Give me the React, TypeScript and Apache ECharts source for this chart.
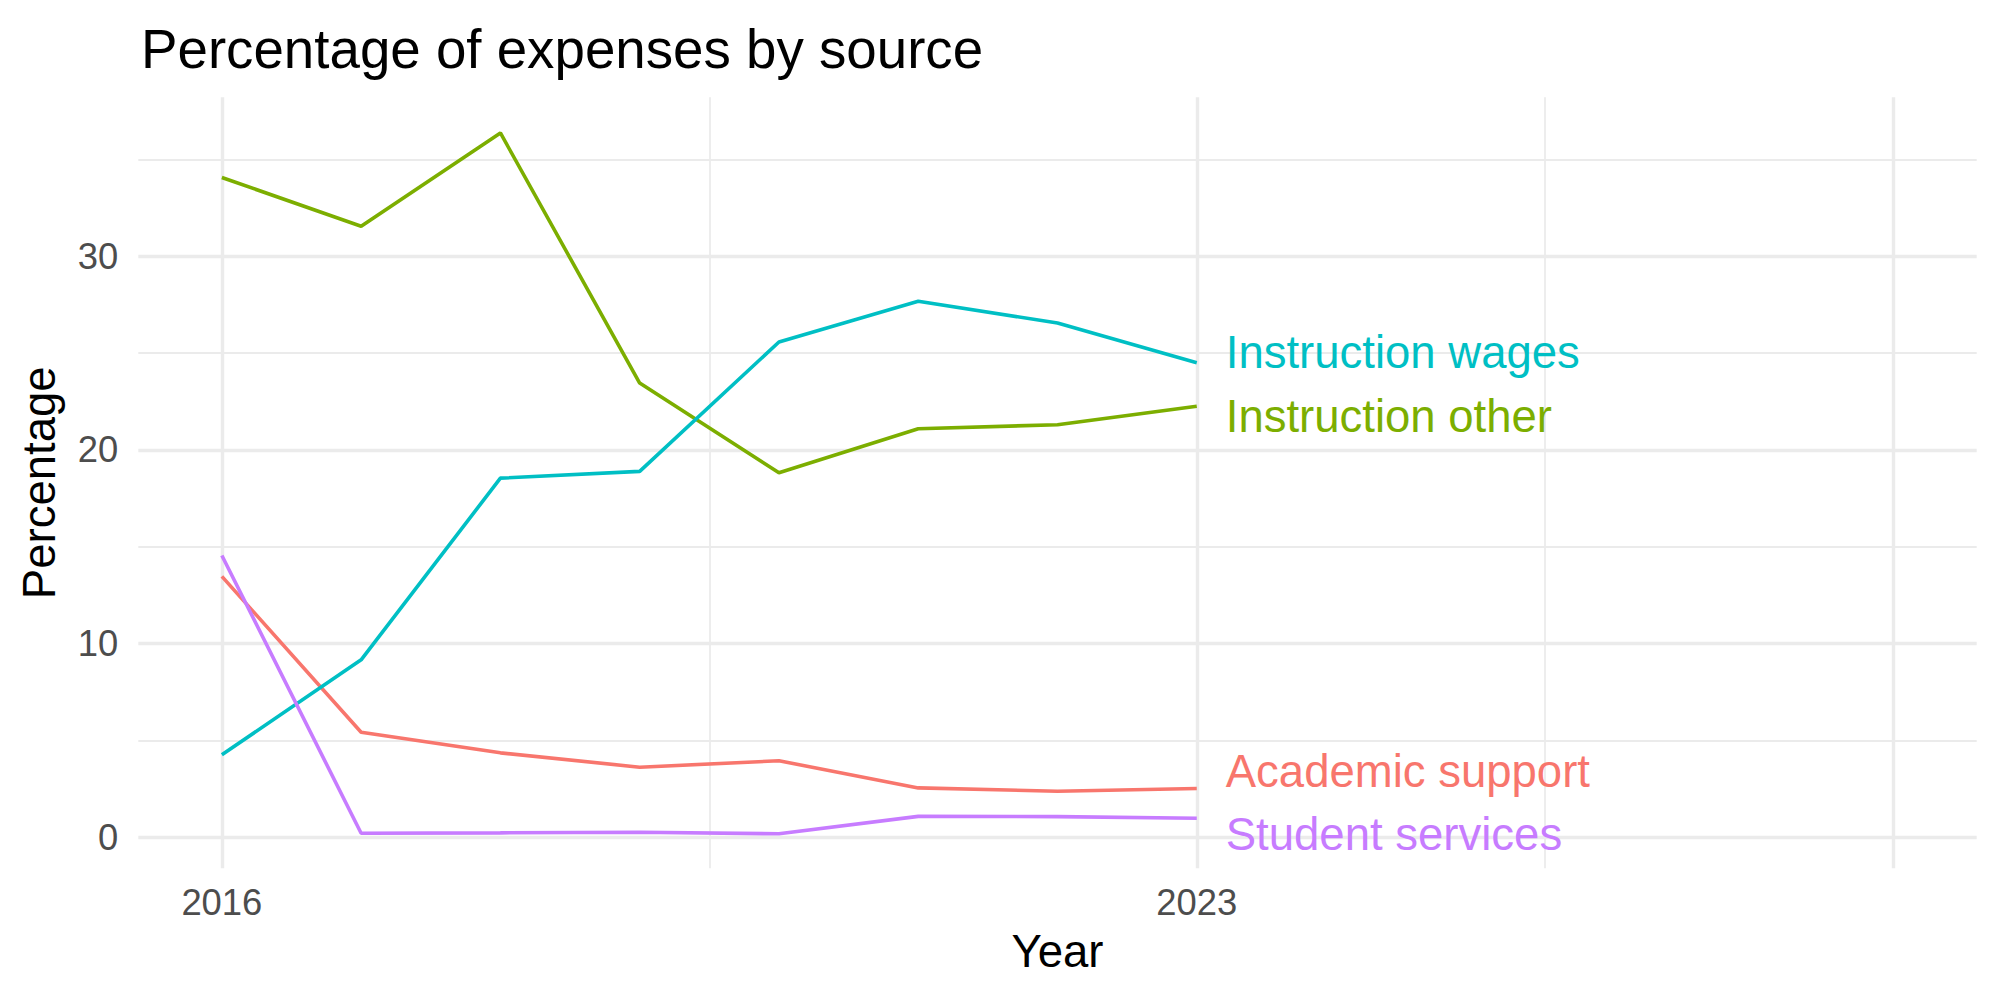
import React, { useEffect, useRef } from "react";
import * as echarts from "echarts";

// ---- data ----
const years = [2016, 2017, 2018, 2019, 2020, 2021, 2022, 2023];
const academicSupport = [13.47, 5.42, 4.36, 3.62, 3.95, 2.55, 2.38, 2.52];
const instructionOther = [34.06, 31.54, 36.36, 23.45, 18.82, 21.09, 21.3, 22.25];
const instructionWages = [4.26, 9.16, 18.54, 18.89, 25.57, 27.67, 26.55, 24.5];
const studentServices = [14.55, 0.21, 0.23, 0.26, 0.18, 1.08, 1.07, 0.98];

const seriesNames = ["Academic support", "Instruction other", "Instruction wages", "Student services"];
const seriesValues = [academicSupport, instructionOther, instructionWages, studentServices];
const seriesColors = ["#F8766D", "#7CAE00", "#00BFC4", "#C77CFF"];
// vertical nudges (px) of the direct labels (repelled)
const labelNudge = [-17, 10, -10, 16];

const xTickLabels = [2016, 2023];
const yTickLabels = [0, 10, 20, 30];
const xMajorGrid = [2016, 2023, 2028];
const xMinorGrid = [2019.5, 2025.5];
const yMajorGrid = [0, 10, 20, 30];
const yMinorGrid = [5, 15, 25, 35];

const FONT = "'Liberation Sans', Arial, Helvetica, sans-serif";
const GRID = "#EBEBEB";

export default function App() {
  const ref = useRef<HTMLDivElement>(null);

  useEffect(() => {
    if (!ref.current) return;
    const chart = echarts.init(ref.current, null, { renderer: "svg" });

    const gridLines = [
      ...yMinorGrid.map((v) => ({ yAxis: v, lineStyle: { color: GRID, width: 1.8, type: "solid" as const } })),
      ...xMinorGrid.map((v) => ({ xAxis: v, lineStyle: { color: GRID, width: 1.8, type: "solid" as const } })),
      ...yMajorGrid.map((v) => ({ yAxis: v, lineStyle: { color: GRID, width: 3.4, type: "solid" as const } })),
      ...xMajorGrid.map((v) => ({ xAxis: v, lineStyle: { color: GRID, width: 3.4, type: "solid" as const } })),
    ];

    const last = years.length - 1;
    const lineSeries = seriesNames.map((name, i) => ({
      type: "line" as const,
      name,
      data: years.map((y, j) => [y, seriesValues[i][j]]),
      showSymbol: false,
      symbol: "none",
      z: 3,
      lineStyle: { color: seriesColors[i], width: 3.6 },
      itemStyle: { color: seriesColors[i] },
      markPoint: {
        silent: true,
        symbol: "circle",
        symbolSize: 0,
        z: 6,
        label: {
          show: true,
          position: "right",
          distance: 0,
          offset: [29, labelNudge[i]],
          formatter: name,
          color: seriesColors[i],
          fontSize: 45.5,
          fontFamily: FONT,
        },
        data: [{ coord: [years[last], seriesValues[i][last]] }],
      },
    }));

    chart.setOption({
      animation: false,
      backgroundColor: "#ffffff",
      title: {
        text: "Percentage of expenses by source",
        left: 136,
        top: 16,
        textStyle: { fontSize: 54.7, fontWeight: "normal", color: "#000000", fontFamily: FONT },
      },
      grid: { left: 138.3, right: 23.3, top: 97.3, bottom: 131.7, containLabel: false },
      xAxis: {
        type: "value",
        min: 2015.4,
        max: 2028.6,
        interval: 0.2,
        axisLine: { show: false },
        axisTick: { show: false },
        splitLine: { show: false },
        axisLabel: {
          margin: 16,
          fontSize: 36.4,
          color: "#4D4D4D",
          fontFamily: FONT,
          formatter: (v: number) => {
            const t = xTickLabels.find((x) => Math.abs(x - v) < 1e-6);
            return t === undefined ? "" : String(t);
          },
        },
        name: "Year",
        nameLocation: "middle",
        nameGap: 60,
        nameTextStyle: { fontSize: 45.5, color: "#000000", fontFamily: FONT },
      },
      yAxis: {
        type: "value",
        min: -1.6,
        max: 38.2,
        interval: 0.2,
        axisLine: { show: false },
        axisTick: { show: false },
        splitLine: { show: false },
        axisLabel: {
          margin: 20,
          fontSize: 36.4,
          color: "#4D4D4D",
          fontFamily: FONT,
          formatter: (v: number) => {
            const t = yTickLabels.find((x) => Math.abs(x - v) < 1e-6);
            return t === undefined ? "" : String(t);
          },
        },
        name: "Percentage",
        nameLocation: "middle",
        nameGap: 76,
        nameTextStyle: { fontSize: 45.5, color: "#000000", fontFamily: FONT },
      },
      series: [
        {
          type: "line",
          name: "grid",
          data: [],
          silent: true,
          z: 0,
          markLine: {
            silent: true,
            z: 1,
            symbol: "none",
            label: { show: false },
            emphasis: { disabled: true },
            data: gridLines,
          },
        },
        ...lineSeries,
      ],
    });

    return () => chart.dispose();
  }, []);

  return (
    <div
      ref={ref}
      style={{ position: "absolute", left: 0, top: 0, width: 2000, height: 1000, background: "#fff" }}
    />
  );
}
